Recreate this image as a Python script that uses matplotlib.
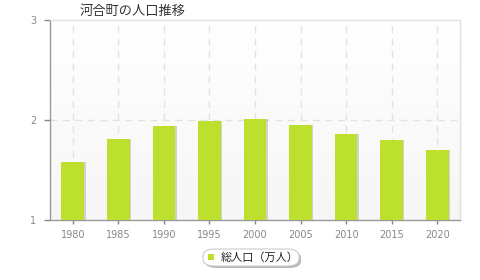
import matplotlib
matplotlib.use("Agg")
import matplotlib.pyplot as plt
import numpy as np
from matplotlib.patches import FancyBboxPatch, Rectangle

plt.rcParams['font.family'] = ['Noto Sans CJK JP', 'DejaVu Sans']

years = ["1980", "1985", "1990", "1995", "2000", "2005", "2010", "2015", "2020"]
population = [1.58, 1.81, 1.94, 1.99, 2.01, 1.95, 1.86, 1.80, 1.70]
yticks = [1, 2, 3]
title = "河合町の人口推移"
legend_label = "総人口（万人）"
bar_color = "#bde02f"

W, H = 480, 280
fig = plt.figure(figsize=(W/100, H/100), dpi=100)
ax = fig.add_axes([50/W, 1-220/H, 410/W, 200/H])

x = np.arange(len(years))
ax.set_xlim(-0.5, len(years)-0.5)
ax.set_ylim(1, 3)

# background gradient
grad = np.linspace(1.0, 0.965, 100).reshape(-1, 1)
ax.imshow(np.dstack([grad, grad, grad]), aspect='auto', extent=(-0.5, len(years)-0.5, 1, 3),
          origin='upper', zorder=0)

ax.bar(x + 0.03, [p - 1 for p in population], bottom=1, width=0.5, color="#999999", alpha=0.4, zorder=2)
ax.bar(x, [p - 1 for p in population], bottom=1, width=0.5, color=bar_color, zorder=3)

for xi in x:
    ax.axvline(xi, color="#e2e2e2", lw=1, ls=(0, (5, 4)), zorder=1)
ax.axhline(2, color="#e2e2e2", lw=1, ls=(0, (5, 4)), zorder=1)

ax.set_xticks(x)
ax.set_xticklabels(years)
ax.set_yticks(yticks)
ax.set_yticklabels([str(v) for v in yticks])
ax.tick_params(axis='both', colors="#888888", labelcolor="#888888", labelsize=7, length=4, width=1)
ax.tick_params(axis='x', length=3, pad=4)
ax.tick_params(axis='y', pad=6)
for lab in ax.get_xticklabels() + ax.get_yticklabels():
    lab.set_family('DejaVu Sans')

ax.spines['left'].set_color("#999999")
ax.spines['bottom'].set_color("#999999")
ax.spines['top'].set_color("#e0e0e0")
ax.spines['right'].set_color("#e0e0e0")
for s in ax.spines.values():
    s.set_linewidth(1)

fig.text(80/W, 1-11/H, title, fontsize=9.5, color="#333333", ha='left', va='center')

# legend box
shadow = FancyBboxPatch((205/W, 1-268/H), 96/W, 17/H, boxstyle="round,pad=0,rounding_size=0.025",
                        transform=fig.transFigure, facecolor="#888888", edgecolor="none", alpha=0.6)
box = FancyBboxPatch((203/W, 1-266/H), 96/W, 17/H, boxstyle="round,pad=0,rounding_size=0.025",
                     transform=fig.transFigure, facecolor="white", edgecolor="#cccccc", lw=0.8)
fig.patches.extend([shadow, box])
fig.patches.append(Rectangle((208/W, 1-260/H), 6/W, 6/H, transform=fig.transFigure,
                             facecolor=bar_color, edgecolor="none"))
fig.text(221/W, 1-257.5/H, legend_label, fontsize=8, color="#222222", ha='left', va='center')

fig.savefig("out.png", dpi=100)
